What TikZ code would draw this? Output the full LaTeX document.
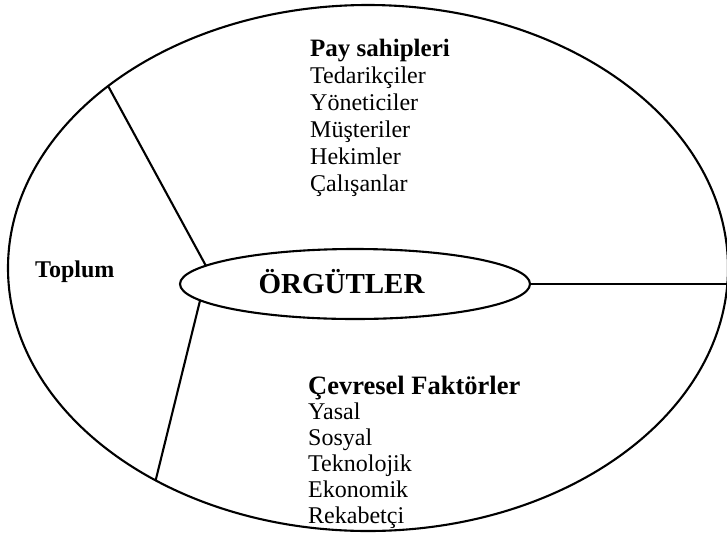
\documentclass[tikz,border=0pt]{standalone}
\usepackage{fontspec}
\setmainfont{Liberation Serif}
\usetikzlibrary{shapes.geometric}
\begin{document}
\begin{tikzpicture}[x=1pt,y=-1pt,
  ring/.style={draw=black, line width=2.1pt, ellipse, inner sep=0pt, outer sep=0pt},
  link/.style={draw=black, line width=2.1pt},
  head/.style={anchor=base west, inner sep=0pt, font=\fontsize{25}{27}\selectfont\bfseries},
  item/.style={anchor=base west, inner sep=0pt, font=\fontsize{24}{27}\selectfont}]
\useasboundingbox (0,0) rectangle (727,536);

% outer environment and the organisation at its core
\node[ring, minimum width=720pt, minimum height=526pt] (env) at (368,268) {};
\node[ring, minimum width=350pt, minimum height=70pt] (org) at (355,284) {};
\node[anchor=base, inner sep=0pt, font=\fontsize{29}{32}\selectfont\bfseries]
  (orgname) at (341.5,293.5) {ÖRGÜTLER};

% dividing lines between the three sectors
\draw[link] (env.145.7) -- (org.173.2);
\draw[link] (org.186.8) -- (env.225);
\draw[link] (org.east) -- (org.east -| env.east);

% society
\node[head, font=\fontsize{24}{27}\selectfont\bfseries] (toplum) at (35,277) {Toplum};

% stakeholders
\node[head] (pay) at (310,56) {Pay sahipleri};
\foreach \t [count=\i] in {Tedarikçiler,Yöneticiler,Müşteriler,Hekimler,Çalışanlar}
  \node[item] (pay\i) at (310,{56+27*\i}) {\t};

% environmental factors
\node[head, font=\fontsize{26.5}{27}\selectfont\bfseries] (cev) at (308,394) {Çevresel Faktörler};
\foreach \t [count=\i] in {Yasal,Sosyal,Teknolojik,Ekonomik,Rekabetçi}
  \node[item] (cev\i) at (308,{394+25.8*\i}) {\t};
\end{tikzpicture}
\end{document}
